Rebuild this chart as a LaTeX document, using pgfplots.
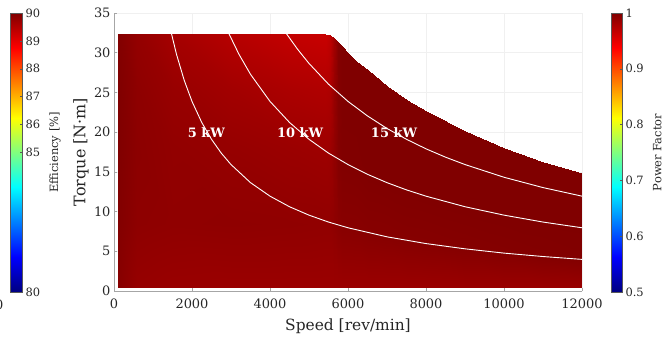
\documentclass[border=0pt]{standalone}
\usepackage{fontspec}
\setmainfont{DejaVu Serif}
\usepackage{pgfplots}
\pgfplotsset{compat=1.18}
\definecolor{ticktxt}{HTML}{262626}
\definecolor{axgray}{HTML}{A6A6A6}
\definecolor{gridc}{HTML}{F0F0F0}
\begin{document}
\begin{tikzpicture}
%---------------- main frame: grid, ticks, labels
\begin{axis}[
  at={(114bp,52bp)}, anchor=south west, scale only axis,
  width=468bp, height=278bp,
  xmin=0, xmax=12000, ymin=0, ymax=35,
  xtick={0,2000,4000,6000,8000,10000,12000}, ytick={0,5,10,15,20,25,30,35},
  scaled x ticks=false,
  axis x line*=bottom, axis y line*=left,
  axis line style={draw=axgray, line width=0.6bp, -},
  tick style={draw=axgray, line width=0.6bp},
  tick align=inside, major tick length=3bp,
  grid=major, major grid style={draw=gridc, line width=0.5bp},
  tick label style={font=\fontsize{13}{15}\selectfont, text=ticktxt},
  xticklabel style={yshift=-4bp},
  /pgf/number format/assume math mode=true,
  /pgf/number format/1000 sep={},
  xlabel={Speed [rev/min]}, ylabel={Torque [N·m]},
  every axis x label/.style={at={(axis description cs:0.5,-0.126)}, anchor=center, font=\fontsize{15.5}{18}\selectfont, text=ticktxt},
  every axis y label/.style={at={(axis description cs:-0.0705,0.5)}, rotate=90, anchor=center, font=\fontsize{16}{18}\selectfont, text=ticktxt},
]
\addplot[draw=none] coordinates {(0,0)};
\end{axis}
%---------------- heat map of the operating envelope
\begin{axis}[
  at={(114bp,52bp)}, anchor=south west, scale only axis,
  width=468bp, height=278bp,
  xmin=0, xmax=12000, ymin=0, ymax=35, zmin=-1, zmax=1,
  view={0}{90}, hide axis,
  colormap={reds}{rgb255=(0,0,0) rgb255=(255,0,0)},
  point meta min=0, point meta max=255,
]
\addplot3[surf, shader=interp, mesh/cols=5, point meta=explicit]
 table[x=x, y=y, z=z, meta=c] {
x y z c
100 0.5 0 135
100 8.48 0 130
100 18.05 0 128
100 25.38 0 128
100 32.4 0 130
600 0.5 0 150
600 8.48 0 142
600 18.05 0 140
600 25.38 0 142
600 32.4 0 148
1500 0.5 0 153
1500 8.48 0 144
1500 18.05 0 146
1500 25.38 0 152
1500 32.4 0 165
3000 0.5 0 154
3000 8.48 0 143
3000 18.05 0 150
3000 25.38 0 162
3000 32.4 0 182
4500 0.5 0 154
4500 8.48 0 144
4500 18.05 0 155
4500 25.38 0 172
4500 32.4 0 195
5400 0.5 0 154
5400 8.48 0 145
5400 18.05 0 158
5400 25.38 0 176
5400 32.4 0 200
5550 0.5 0 154
5550 8.43 0 145
5550 17.94 0 156
5550 25.23 0 172
5550 32.2 0 190
5650 0.5 0 154
5650 8.35 0 142
5650 17.77 0 145
5650 24.99 0 150
5650 31.9 0 160
5750 0.5 0 154
5750 8.23 0 138
5750 17.50 0 132
5750 24.60 0 132
5750 31.4 0 132
5850 0.5 0 154
5850 8.08 0 136
5850 17.17 0 129
5850 24.13 0 128
5850 30.8 0 128
6000 0.5 0 154
6000 7.88 0 136
6000 16.73 0 129
6000 23.51 0 128
6000 30.0 0 128
6200 0.5 0 154
6200 7.63 0 136
6200 16.18 0 129
6200 22.73 0 128
6200 29.0 0 128
6500 0.5 0 154
6500 7.33 0 135
6500 15.52 0 128
6500 21.79 0 128
6500 27.8 0 128
7000 0.5 0 154
7000 6.83 0 135
7000 14.42 0 128
7000 20.23 0 128
7000 25.8 0 128
7500 0.5 0 154
7500 6.40 0 134
7500 13.48 0 128
7500 18.91 0 128
7500 24.1 0 128
8000 0.5 0 154
8000 6.03 0 134
8000 12.66 0 128
8000 17.74 0 128
8000 22.6 0 128
9000 0.5 0 153
9000 5.40 0 133
9000 11.28 0 128
9000 15.79 0 128
9000 20.1 0 128
10000 0.5 0 153
10000 4.88 0 132
10000 10.13 0 128
10000 14.15 0 128
10000 18.0 0 128
11000 0.5 0 153
11000 4.45 0 131
11000 9.19 0 128
11000 12.82 0 128
11000 16.3 0 128
12000 0.5 0 152
12000 4.08 0 130
12000 8.37 0 128
12000 11.65 0 128
12000 14.8 0 128
};
\end{axis}
%---------------- constant power curves and labels
\begin{axis}[
  at={(114bp,52bp)}, anchor=south west, scale only axis,
  width=468bp, height=278bp,
  xmin=0, xmax=12000, ymin=0, ymax=35, hide axis,
]
\addplot[white, line width=0.9bp] coordinates {
(1474,32.4) (1600,29.84) (1800,26.53) (2000,23.87) (2250,21.22) (2500,19.10) (2750,17.36) (3000,15.92) (3500,13.64) (4000,11.94) (4500,10.61) (5000,9.55) (5500,8.68) (6000,7.96) (7000,6.82) (8000,5.97) (9000,5.31) (10000,4.77) (11000,4.34) (12000,3.98)};
\addplot[white, line width=0.9bp] coordinates {
(2947,32.4) (3200,29.84) (3500,27.28) (4000,23.87) (4500,21.22) (5000,19.10) (5500,17.36) (6000,15.92) (6500,14.69) (7000,13.64) (7500,12.73) (8000,11.94) (9000,10.61) (10000,9.55) (11000,8.68) (12000,7.96)};
\addplot[white, line width=0.9bp] coordinates {
(4421,32.4) (4700,30.48) (5000,28.65) (5500,26.04) (6000,23.87) (6500,22.04) (7000,20.46) (7500,19.10) (8000,17.90) (8500,16.85) (9000,15.92) (10000,14.32) (11000,13.02) (12000,11.94)};
\node[font=\bfseries\fontsize{13}{15}\selectfont, text=white] at (axis cs:2370,19.9) {5 kW};
\node[font=\bfseries\fontsize{13}{15}\selectfont, text=white] at (axis cs:4770,19.9) {10 kW};
\node[font=\bfseries\fontsize{13}{15}\selectfont, text=white] at (axis cs:7180,19.9) {15 kW};
\end{axis}
%---------------- left colour bar (efficiency)
\begin{axis}[
  at={(10bp,51bp)}, anchor=south west, scale only axis,
  width=12bp, height=279bp,
  xmin=0, xmax=1, ymin=80, ymax=90, zmin=-1, zmax=1,
  view={0}{90}, hide axis, colormap/jet,
  point meta min=80, point meta max=90,
]
\addplot3[surf, shader=interp, mesh/cols=2, point meta=explicit]
 table[x=x, y=y, z=z, meta=c] {
x y z c
0 80 0 80
1 80 0 80
0 81.25 0 81.25
1 81.25 0 81.25
0 83.75 0 83.75
1 83.75 0 83.75
0 86.25 0 86.25
1 86.25 0 86.25
0 88.75 0 88.75
1 88.75 0 88.75
0 90 0 90
1 90 0 90
};
\end{axis}
\begin{axis}[
  at={(10bp,51bp)}, anchor=south west, scale only axis,
  width=12bp, height=279bp,
  xmin=0, xmax=1, ymin=80, ymax=90,
  axis line style={draw=gray!70!black, line width=0.5bp},
  xtick=\empty, ytick={80,85,86,87,88,89,90},
  ytick pos=right, yticklabel pos=right,
  tick align=inside, major tick length=2.5bp,
  tick style={draw=gray!70!black, line width=0.5bp},
  tick label style={font=\fontsize{11.5}{13}\selectfont, text=ticktxt},
  /pgf/number format/assume math mode=true,
  ylabel={Efficiency [\%]},
  every axis y label/.style={at={(axis description cs:3.75,0.5)}, rotate=90, anchor=center, font=\fontsize{11.5}{13}\selectfont, text=ticktxt},
]
\addplot[draw=none] coordinates {(0,80)};
\end{axis}
%---------------- right colour bar (power factor)
\begin{axis}[
  at={(611bp,51bp)}, anchor=south west, scale only axis,
  width=11bp, height=279bp,
  xmin=0, xmax=1, ymin=0.5, ymax=1, zmin=-1, zmax=1,
  view={0}{90}, hide axis, colormap/jet,
  point meta min=0.5, point meta max=1,
]
\addplot3[surf, shader=interp, mesh/cols=2, point meta=explicit]
 table[x=x, y=y, z=z, meta=c] {
x y z c
0 0.5 0 0.5
1 0.5 0 0.5
0 0.5625 0 0.5625
1 0.5625 0 0.5625
0 0.6875 0 0.6875
1 0.6875 0 0.6875
0 0.8125 0 0.8125
1 0.8125 0 0.8125
0 0.9375 0 0.9375
1 0.9375 0 0.9375
0 1 0 1
1 1 0 1
};
\end{axis}
\begin{axis}[
  at={(611bp,51bp)}, anchor=south west, scale only axis,
  width=11bp, height=279bp,
  xmin=0, xmax=1, ymin=0.5, ymax=1,
  axis line style={draw=gray!70!black, line width=0.5bp},
  xtick=\empty, ytick={0.5,0.6,0.7,0.8,0.9,1},
  ytick pos=right, yticklabel pos=right,
  tick align=inside, major tick length=2.5bp,
  tick style={draw=gray!70!black, line width=0.5bp},
  tick label style={font=\fontsize{11.5}{13}\selectfont, text=ticktxt},
  /pgf/number format/assume math mode=true,
  /pgf/number format/fixed, /pgf/number format/precision=1,
  ylabel={Power Factor},
  every axis y label/.style={at={(axis description cs:4.2,0.5)}, rotate=90, anchor=center, font=\fontsize{11.5}{13}\selectfont, text=ticktxt},
]
\addplot[draw=none] coordinates {(0,0.5)};
\end{axis}
\node[font=\fontsize{13}{15}\selectfont, text=ticktxt, anchor=east, inner sep=0pt] at (3.5bp,38bp) {0};
\pgfresetboundingbox
\useasboundingbox (0,0) rectangle (667bp,343bp);
\end{tikzpicture}
\end{document}
